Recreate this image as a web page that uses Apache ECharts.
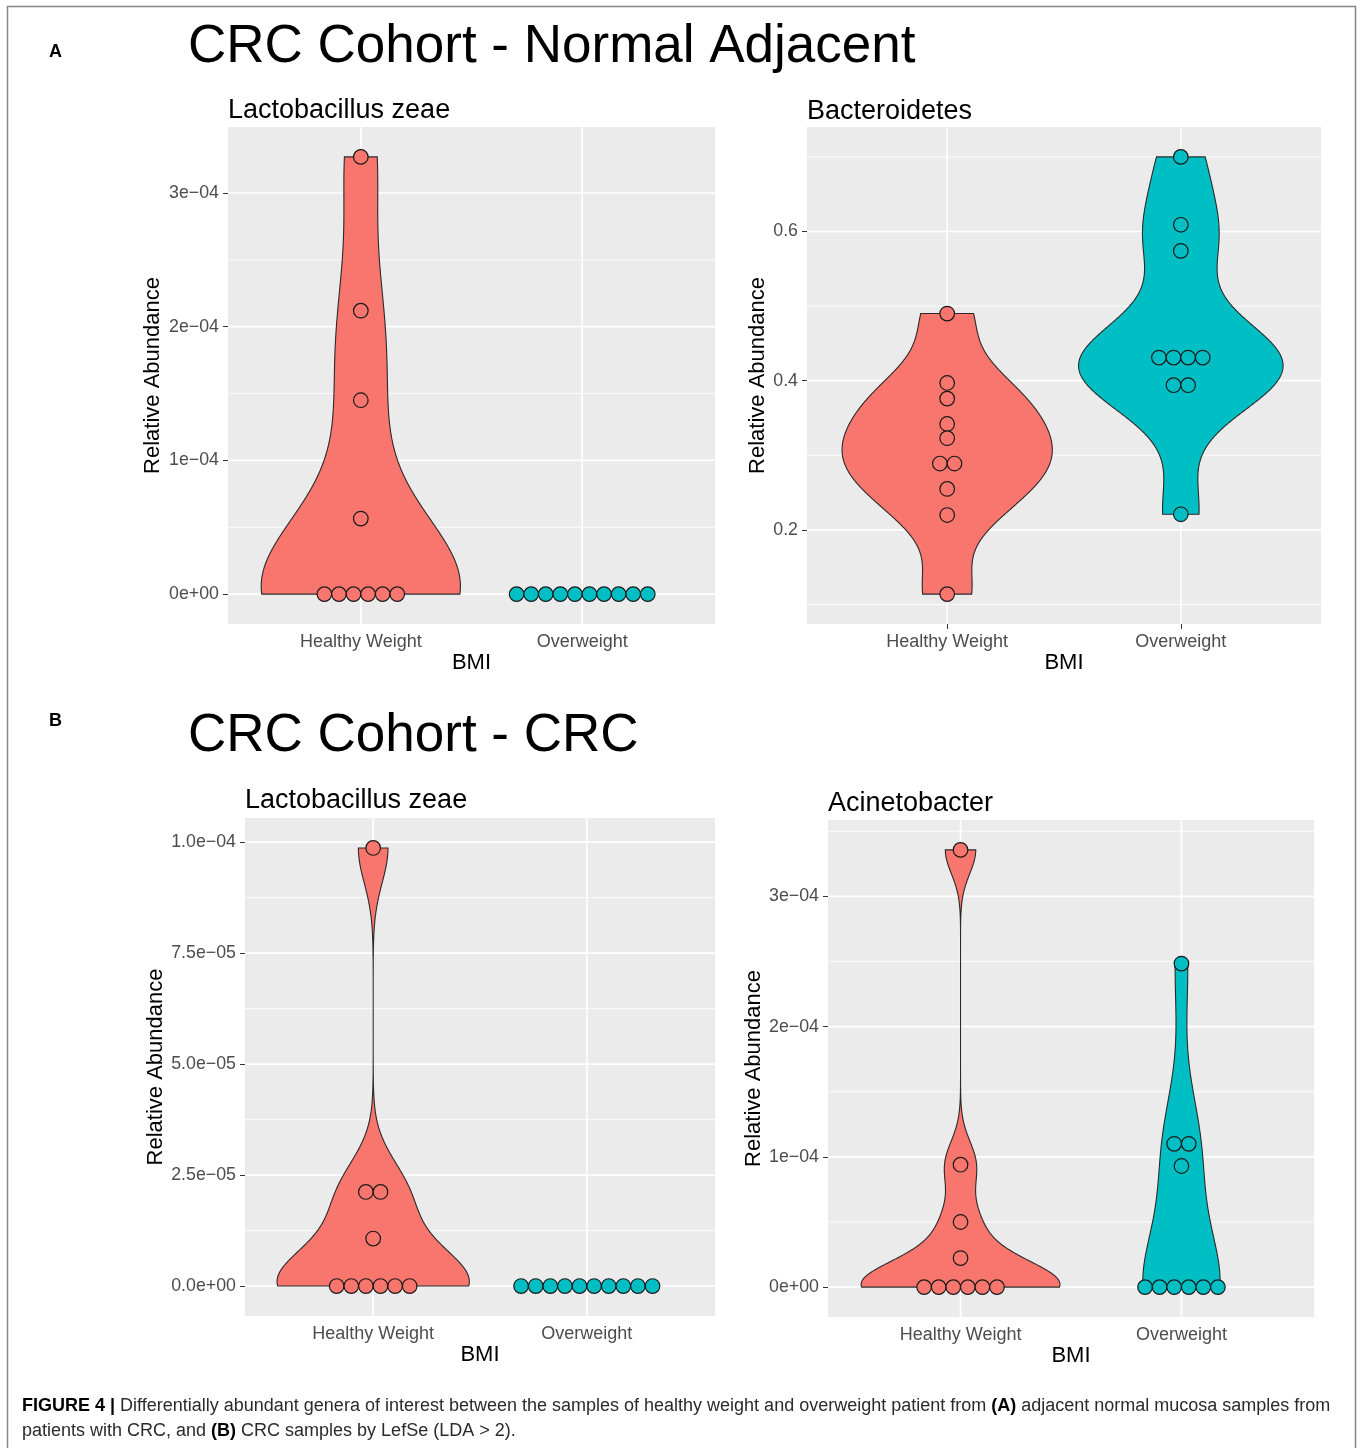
<!DOCTYPE html>
<html>
<head>
<meta charset="utf-8">
<script src="https://cdn.jsdelivr.net/npm/echarts@6/dist/echarts.min.js"></script>
<style>
html,body{margin:0;padding:0;background:#fff;}
#chart{width:1360px;height:1448px;}
</style>
</head>
<body>
<div id="chart"></div>
<script>
// ---------------- DATA ----------------
const categories = ['Healthy Weight', 'Overweight'];

// (A) Normal adjacent - Lactobacillus zeae
const aLactoHealthy = [0, 0, 0, 0, 0, 0, 0.565e-4, 1.45e-4, 2.12e-4, 3.27e-4];
const aLactoOver    = [0, 0, 0, 0, 0, 0, 0, 0, 0, 0];
const aLactoTicks   = [0, 1e-4, 2e-4, 3e-4];
const aLactoLabels  = ['0e+00', '1e\u221204', '2e\u221204', '3e\u221204'];

// (A) Normal adjacent - Bacteroidetes
const aBactHealthy = [0.49, 0.397, 0.376, 0.342, 0.323, 0.289, 0.289, 0.255, 0.22, 0.114];
const aBactOver    = [0.70, 0.609, 0.574, 0.431, 0.431, 0.431, 0.431, 0.394, 0.394, 0.221];
const aBactTicks   = [0.2, 0.4, 0.6];
const aBactLabels  = ['0.2', '0.4', '0.6'];

// (B) CRC - Lactobacillus zeae
const bLactoHealthy = [0, 0, 0, 0, 0, 0, 0.107e-4, 0.212e-4, 0.212e-4, 0.987e-4];
const bLactoOver    = [0, 0, 0, 0, 0, 0, 0, 0, 0, 0];
const bLactoTicks   = [0, 2.5e-5, 5e-5, 7.5e-5, 1e-4];
const bLactoLabels  = ['0.0e+00', '2.5e\u221205', '5.0e\u221205', '7.5e\u221205', '1.0e\u221204'];

// (B) CRC - Acinetobacter
const bAcinHealthy = [0, 0, 0, 0, 0, 0, 0.223e-4, 0.50e-4, 0.94e-4, 3.357e-4];
const bAcinOver    = [0, 0, 0, 0, 0, 0, 0.93e-4, 1.10e-4, 1.10e-4, 2.484e-4];
const bAcinTicks   = [0, 1e-4, 2e-4, 3e-4];
const bAcinLabels  = ['0e+00', '1e\u221204', '2e\u221204', '3e\u221204'];

const mainTitleA = 'CRC Cohort - Normal Adjacent';
const mainTitleB = 'CRC Cohort - CRC';
const captionLine1 = '{b|FIGURE 4 |} Differentially abundant genera of interest between the samples of healthy weight and overweight patient from {b|(A)} adjacent normal mucosa samples from';
const captionLine2 = 'patients with CRC, and {b|(B)} CRC samples by LefSe (LDA > 2).';

// ---------------- STYLE / LAYOUT ----------------
const FONT = '"Liberation Sans", Arial, Helvetica, sans-serif';
const groupColors = ['#F8766D', '#00BFC4'];

const panels = [
  { title: 'Lactobacillus zeae', groups: [aLactoHealthy, aLactoOver], ticks: aLactoTicks, labels: aLactoLabels,
    box: [228, 127, 715, 624], titleXY: [228, 110.5], yNameGap: 64, xNameGap: 25 },
  { title: 'Bacteroidetes', groups: [aBactHealthy, aBactOver], ticks: aBactTicks, labels: aBactLabels,
    box: [807, 127, 1321, 624], titleXY: [807, 111.5], yNameGap: 37, xNameGap: 25 },
  { title: 'Lactobacillus zeae', groups: [bLactoHealthy, bLactoOver], ticks: bLactoTicks, labels: bLactoLabels,
    box: [245, 818, 715, 1316], titleXY: [245, 801], yNameGap: 78, xNameGap: 23 },
  { title: 'Acinetobacter', groups: [bAcinHealthy, bAcinOver], ticks: bAcinTicks, labels: bAcinLabels,
    box: [828, 820, 1314, 1317], titleXY: [828, 804], yNameGap: 62, xNameGap: 24 }
];

// ---------------- STATS (ggplot-like) ----------------
function sd(a) {
  const m = a.reduce((s, v) => s + v, 0) / a.length;
  return Math.sqrt(a.reduce((s, v) => s + (v - m) * (v - m), 0) / (a.length - 1));
}
function quantile7(s, p) {
  const h = (s.length - 1) * p, lo = Math.floor(h);
  const hi = Math.min(lo + 1, s.length - 1);
  return s[lo] + (h - lo) * (s[hi] - s[lo]);
}
function bwNrd0(a) {
  const s = a.slice().sort((x, y) => x - y);
  const hi = sd(a);
  let lo = Math.min(hi, (quantile7(s, 0.75) - quantile7(s, 0.25)) / 1.34);
  if (!(lo > 0)) lo = hi || Math.abs(s[0]) || 1;
  return 0.9 * lo * Math.pow(a.length, -0.2);
}
function kde(a, n) {
  const s = a.slice().sort((x, y) => x - y);
  const mn = s[0], mx = s[s.length - 1];
  const bw = bwNrd0(a);
  const out = [];
  for (let i = 0; i < n; i++) {
    const y = mn + (mx - mn) * i / (n - 1);
    let d = 0;
    for (const v of a) { const z = (y - v) / bw; d += Math.exp(-0.5 * z * z); }
    out.push([y, d / (a.length * bw * Math.sqrt(2 * Math.PI))]);
  }
  return { pts: out, degenerate: mx === mn };
}

// prepare each panel
panels.forEach(p => {
  const all = p.groups.flat();
  const mn = Math.min(...all), mx = Math.max(...all);
  const R = mx - mn;
  p.binw = R / 30;
  const lo = mn - p.binw / 2, hi = mx + p.binw / 2;
  const pad = 0.05 * (hi - lo);
  p.yMin = lo - pad; p.yMax = hi + pad;
  // minor breaks: midpoints of major breaks (and one step beyond), within range
  const t = p.ticks, step = t[1] - t[0];
  const minors = [];
  for (let i = -1; i < t.length; i++) {
    const v = t[0] + (i + 0.5) * step;
    if (v > p.yMin && v < p.yMax) minors.push(v);
  }
  p.minors = minors;
  // violins
  const dens = p.groups.map(g => kde(g, 512));
  let maxD = 0;
  dens.forEach(d => { if (!d.degenerate) d.pts.forEach(q => { if (q[1] > maxD) maxD = q[1]; }); });
  p.polys = dens.map((d, gi) => {
    if (d.degenerate) return null;
    const x0 = gi + 1;
    const right = d.pts.map(q => [x0 + 0.45 * q[1] / maxD, q[0]]);
    const left = d.pts.slice().reverse().map(q => [x0 - 0.45 * q[1] / maxD, q[0]]);
    return right.concat(left);
  });
  // dots (centre-stacked when values coincide)
  const items = [];
  p.groups.forEach((arr, gi) => {
    const counts = new Map(), seen = new Map();
    arr.forEach(v => counts.set(v, (counts.get(v) || 0) + 1));
    arr.forEach(v => {
      const k = counts.get(v), j = seen.get(v) || 0;
      seen.set(v, j + 1);
      items.push([gi + 1, v, j - (k - 1) / 2, gi]);
    });
  });
  p.dots = items;
});

// ---------------- OPTION ----------------
const grids = [], xAxes = [], yAxes = [], series = [], graphics = [];

panels.forEach((p, i) => {
  const [l, t, r, b] = p.box;
  grids.push({ left: l, top: t, width: r - l, height: b - t, show: true,
    backgroundColor: '#EBEBEB', borderWidth: 0, containLabel: false });

  xAxes.push({
    gridIndex: i, type: 'value', min: 0.4, max: 2.6,
    axisLine: { show: false },
    splitLine: { show: false },
    axisTick: { show: true, customValues: [1, 2], length: 5, lineStyle: { color: '#333333', width: 1 } },
    axisLabel: { customValues: [1, 2], formatter: v => categories[Math.round(v) - 1],
      color: '#4D4D4D', fontSize: 18, fontFamily: FONT, margin: 9 },
    name: 'BMI', nameLocation: 'middle', nameGap: p.xNameGap,
    nameTextStyle: { fontSize: 22, color: '#000', fontFamily: FONT }
  });

  yAxes.push({
    gridIndex: i, type: 'value', min: p.yMin, max: p.yMax,
    axisLine: { show: false },
    splitLine: { show: false },
    axisTick: { show: true, customValues: p.ticks, length: 5, lineStyle: { color: '#333333', width: 1 } },
    axisLabel: { customValues: p.ticks, color: '#4D4D4D', fontSize: 17.8, fontFamily: FONT, margin: 9,
      formatter: v => {
        let best = 0, bd = Infinity;
        p.ticks.forEach((tv, k) => { const d = Math.abs(tv - v); if (d < bd) { bd = d; best = k; } });
        return p.labels[best];
      } },
    name: 'Relative Abundance', nameLocation: 'middle', nameRotate: 90, nameGap: p.yNameGap,
    nameTextStyle: { fontSize: 22, color: '#000', fontFamily: FONT }
  });

  // grid lines
  const gl = [];
  p.minors.forEach(v => gl.push([v, 0, 0]));
  p.ticks.forEach(v => gl.push([v, 1, 0]));
  [1, 2].forEach(v => gl.push([v, 1, 1]));
  series.push({
    type: 'custom', xAxisIndex: i, yAxisIndex: i, silent: true, z: 1, clip: true,
    data: gl,
    renderItem: (params, api) => {
      const v = api.value(0), major = api.value(1), dir = api.value(2);
      let p1, p2;
      if (dir === 0) { p1 = api.coord([0.4, v]); p2 = api.coord([2.6, v]); }
      else { p1 = api.coord([v, p.yMin]); p2 = api.coord([v, p.yMax]); }
      return { type: 'line', shape: { x1: p1[0], y1: p1[1], x2: p2[0], y2: p2[1] },
        style: { stroke: '#FFFFFF', lineWidth: major ? 1.7 : 0.85 } };
    }
  });

  // violins
  series.push({
    type: 'custom', xAxisIndex: i, yAxisIndex: i, silent: true, z: 2,
    data: p.polys.map((poly, gi) => [gi + 1, gi]),
    renderItem: (params, api) => {
      const gi = api.value(1);
      const poly = p.polys[gi];
      if (!poly) return null;
      return { type: 'polygon', shape: { points: poly.map(q => api.coord(q)) },
        style: { fill: groupColors[gi], stroke: '#2a2a2a', lineWidth: 1.1 } };
    }
  });

  // dots
  series.push({
    type: 'custom', xAxisIndex: i, yAxisIndex: i, silent: true, z: 3,
    data: p.dots,
    renderItem: (params, api) => {
      const c = api.coord([api.value(0), api.value(1)]);
      const d = api.size([0, p.binw])[1];
      const off = api.value(2);
      return { type: 'circle', shape: { cx: c[0] + off * d, cy: c[1], r: d / 2 },
        style: { fill: groupColors[api.value(3)], stroke: '#1a1a1a', lineWidth: 1.2 } };
    }
  });

  graphics.push({ type: 'text', x: p.titleXY[0], y: p.titleXY[1], silent: true,
    style: { text: p.title, fontSize: 27, fontFamily: FONT, fill: '#000', align: 'left', verticalAlign: 'middle' } });
});

graphics.push(
  { type: 'rect', shape: { x: 7.5, y: 6.5, width: 1348, height: 1480 }, silent: true, z: -10,
    style: { fill: 'none', stroke: '#858585', lineWidth: 1.5 } },
  { type: 'text', x: 49, y: 52.5, silent: true,
    style: { text: 'A', fontSize: 18, fontWeight: 'bold', fontFamily: FONT, fill: '#000', align: 'left', verticalAlign: 'middle' } },
  { type: 'text', x: 188, y: 47.5, silent: true,
    style: { text: mainTitleA, fontSize: 53, fontFamily: FONT, fill: '#000', align: 'left', verticalAlign: 'middle' } },
  { type: 'text', x: 49, y: 721, silent: true,
    style: { text: 'B', fontSize: 18, fontWeight: 'bold', fontFamily: FONT, fill: '#000', align: 'left', verticalAlign: 'middle' } },
  { type: 'text', x: 188, y: 736, silent: true,
    style: { text: mainTitleB, fontSize: 53, fontFamily: FONT, fill: '#000', align: 'left', verticalAlign: 'middle' } },
  { type: 'text', x: 22, y: 1406, silent: true,
    style: { text: captionLine1, fontSize: 18, fontFamily: FONT, fill: '#2b2b2b', align: 'left', verticalAlign: 'middle',
      rich: { b: { fontSize: 18, fontFamily: FONT, fontWeight: 'bold', fill: '#000' } } } },
  { type: 'text', x: 22, y: 1431, silent: true,
    style: { text: captionLine2, fontSize: 18, fontFamily: FONT, fill: '#2b2b2b', align: 'left', verticalAlign: 'middle',
      rich: { b: { fontSize: 18, fontFamily: FONT, fontWeight: 'bold', fill: '#000' } } } }
);

const chart = echarts.init(document.getElementById('chart'), null, { renderer: 'canvas' });
chart.setOption({
  animation: false,
  backgroundColor: '#FFFFFF',
  textStyle: { fontFamily: FONT },
  grid: grids,
  xAxis: xAxes,
  yAxis: yAxes,
  series: series,
  graphic: graphics
});
</script>
</body>
</html>
